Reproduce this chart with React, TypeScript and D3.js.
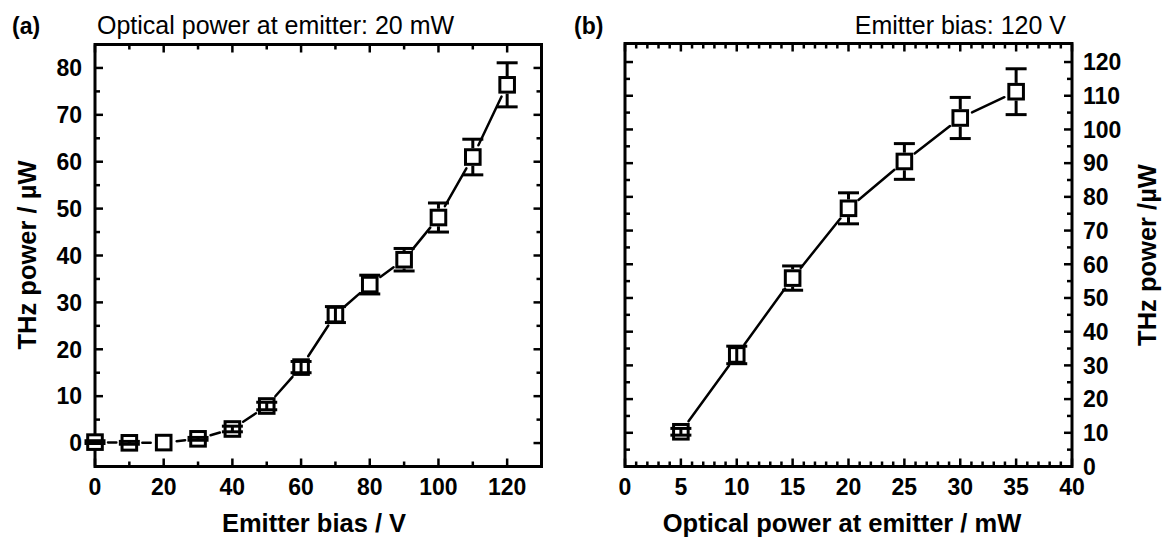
import React from "react";
import * as d3 from "d3";

// Panel (a): THz power vs emitter bias (optical power 20 mW)
const biasV = [0, 10, 20, 30, 40, 50, 60, 70, 80, 90, 100, 110, 120];
const thzA = [0.2, 0.05, 0.1, 0.9, 3.0, 7.9, 16.2, 27.4, 33.8, 39.1, 48.1, 61.0, 76.4];
const errA = [0.3, 0.3, 0, 0.3, 0.6, 0.8, 1.2, 1.7, 2.0, 2.4, 3.1, 3.8, 4.7];

// Panel (b): THz power vs optical power (emitter bias 120 V)
const powerMW = [5, 10, 15, 20, 25, 30, 35];
const thzB = [10.3, 33.1, 55.9, 76.6, 90.5, 103.4, 111.2];
const errB = [1.0, 2.6, 3.6, 4.6, 5.3, 6.1, 6.8];

const xTicksA = [0, 20, 40, 60, 80, 100, 120];
const xMinorA = [10, 30, 50, 70, 90, 110];
const yTicksA = [0, 10, 20, 30, 40, 50, 60, 70, 80];
const yMinorA = [5, 15, 25, 35, 45, 55, 65, 75];

const xTicksB = [0, 5, 10, 15, 20, 25, 30, 35, 40];
const xMinorB = d3.range(1, 40).filter((v) => v % 5 !== 0);
const yTicksB = [0, 10, 20, 30, 40, 50, 60, 70, 80, 90, 100, 110, 120];
const yMinorB = [5, 15, 25, 35, 45, 55, 65, 75, 85, 95, 105, 115];

const FONT = "'Liberation Sans', Arial, Helvetica, sans-serif";
const MAJ = 8;
const MIN = 5;
const HALF = 7.3; // marker half side (path)
const OUT = 8.8; // outer half incl stroke
const CAP = 10.5;
const GAP = 13;

type PanelProps = {
  x: d3.ScaleLinear<number, number>;
  y: d3.ScaleLinear<number, number>;
  xMaj: number[];
  xMin: number[];
  yMaj: number[];
  yMin: number[];
  xs: number[];
  ys: number[];
  es: number[];
  yLabelSide: "left" | "right";
};

function Panel({ x, y, xMaj, xMin, yMaj, yMin, xs, ys, es, yLabelSide }: PanelProps) {
  const [x0, x1] = x.range();
  const [y1, y0] = y.range();
  const pts = xs.map((v, i) => [x(v), y(ys[i])]);
  const segs: number[][] = [];
  for (let i = 0; i < pts.length - 1; i++) {
    const [ax, ay] = pts[i];
    const [bx, by] = pts[i + 1];
    const dx = bx - ax;
    const dy = by - ay;
    const L = Math.hypot(dx, dy);
    if (L <= 2 * GAP) continue;
    const ux = dx / L;
    const uy = dy / L;
    segs.push([ax + ux * GAP, ay + uy * GAP, bx - ux * GAP, by - uy * GAP]);
  }
  const xt = (v: number, len: number, k: string) => (
    <g key={k}>
      <line x1={x(v)} x2={x(v)} y1={y1} y2={y1 - len} />
      <line x1={x(v)} x2={x(v)} y1={y0} y2={y0 + len} />
    </g>
  );
  const yt = (v: number, len: number, k: string) => (
    <g key={k}>
      <line x1={x0} x2={x0 + len} y1={y(v)} y2={y(v)} />
      <line x1={x1} x2={x1 - len} y1={y(v)} y2={y(v)} />
    </g>
  );
  return (
    <g>
      <g stroke="#000" strokeWidth={2.5}>
        {xMaj.map((v, i) => xt(v, MAJ, "xm" + i))}
        {xMin.map((v, i) => xt(v, MIN, "xn" + i))}
        {yMaj.map((v, i) => yt(v, MAJ, "ym" + i))}
        {yMin.map((v, i) => yt(v, MIN, "yn" + i))}
      </g>
      <rect x={x0} y={y0} width={x1 - x0} height={y1 - y0} fill="none" stroke="#000" strokeWidth={3} />
      <g fontFamily={FONT} fontWeight="bold" fontSize={23} fill="#000">
        {xMaj.map((v) => (
          <text key={"xl" + v} x={x(v)} y={495} textAnchor="middle">
            {v}
          </text>
        ))}
        {yMaj.map((v) => (
          <text
            key={"yl" + v}
            x={yLabelSide === "left" ? x0 - 13 : x1 + 11}
            y={y(v)}
            dy="0.36em"
            textAnchor={yLabelSide === "left" ? "end" : "start"}
          >
            {v}
          </text>
        ))}
      </g>
      <g stroke="#000" strokeWidth={2.5} strokeLinecap="round">
        {segs.map((s, i) => (
          <line key={"s" + i} x1={s[0]} y1={s[1]} x2={s[2]} y2={s[3]} />
        ))}
      </g>
      <g stroke="#000" strokeWidth={3} fill="#fff">
        {pts.map(([px, py], i) => (
          <rect key={"m" + i} x={px - HALF} y={py - HALF} width={2 * HALF} height={2 * HALF} />
        ))}
      </g>
      <g stroke="#000" strokeWidth={3}>
        {pts.map(([px, py], i) => {
          if (es[i] <= 0) return null;
          const yt = y(ys[i] + es[i]);
          const yb = y(ys[i] - es[i]);
          const big = (yb - yt) / 2 > OUT;
          return (
            <g key={"e" + i}>
              {big ? (
                <>
                  <line x1={px} x2={px} y1={yt} y2={py - OUT} />
                  <line x1={px} x2={px} y1={py + OUT} y2={yb} />
                </>
              ) : (
                <line x1={px} x2={px} y1={yt} y2={yb} />
              )}
              <line x1={px - CAP} x2={px + CAP} y1={yt} y2={yt} />
              <line x1={px - CAP} x2={px + CAP} y1={yb} y2={yb} />
            </g>
          );
        })}
      </g>
    </g>
  );
}

export default function App() {
  const xA = d3.scaleLinear().domain([0, 130]).range([95, 541.5]);
  const yA = d3.scaleLinear().domain([-5, 85]).range([466.5, 44.5]);
  const xB = d3.scaleLinear().domain([0, 40]).range([625, 1072]);
  const yB = d3.scaleLinear().domain([0, 125.5]).range([466.5, 43.5]);
  return (
    <svg
      width={1167}
      height={540}
      style={{ position: "absolute", left: 0, top: 0, background: "#fff" }}
    >
      <rect width={1167} height={540} fill="#fff" />
      <Panel x={xA} y={yA} xMaj={xTicksA} xMin={xMinorA} yMaj={yTicksA} yMin={yMinorA} xs={biasV} ys={thzA} es={errA} yLabelSide="left" />
      <Panel x={xB} y={yB} xMaj={xTicksB} xMin={xMinorB} yMaj={yTicksB} yMin={yMinorB} xs={powerMW} ys={thzB} es={errB} yLabelSide="right" />
      <g fontFamily={FONT} fill="#000">
        <text x={12} y={34} fontSize={23} fontWeight="bold">(a)</text>
        <text x={97} y={34} fontSize={25}>Optical power at emitter: 20 mW</text>
        <text x={574} y={34} fontSize={23} fontWeight="bold">(b)</text>
        <text x={1066} y={34} fontSize={25} textAnchor="end">Emitter bias: 120 V</text>
        <text x={314} y={532} fontSize={25.5} fontWeight="bold" textAnchor="middle">Emitter bias / V</text>
        <text x={842} y={532} fontSize={25.5} fontWeight="bold" textAnchor="middle">Optical power at emitter / mW</text>
        <text transform="translate(36,255) rotate(-90)" fontSize={25.5} fontWeight="bold" textAnchor="middle">THz power / µW</text>
        <text transform="translate(1156,255) rotate(-90)" fontSize={25.5} fontWeight="bold" textAnchor="middle">THz power /µW</text>
      </g>
    </svg>
  );
}
